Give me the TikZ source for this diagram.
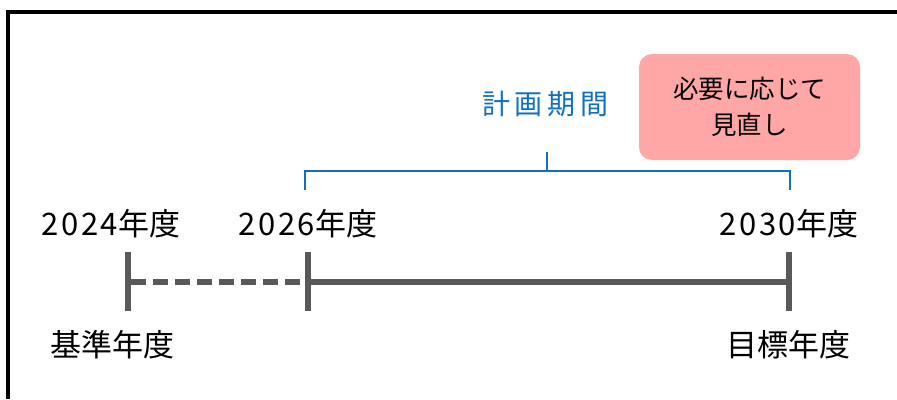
\documentclass[tikz,border=0pt]{standalone}
\usepackage{fontspec}
\setmainfont{Noto Sans CJK JP}
\newcommand{\dg}{\kern2.5pt}
\begin{document}
\begin{tikzpicture}[x=1pt,y=-1pt,
  frame/.style={line width=4pt,black},
  axis/.style={line width=6pt,draw=axisgray},
  tickmark/.style={line width=6pt,draw=axisgray},
  bracket/.style={line width=2pt,draw=planblue},
  yearlbl/.style={font=\fontsize{31}{34}\selectfont,text=black,inner sep=0pt},
  notebox/.style={fill=notepink,rounded corners=13pt,minimum width=221pt,minimum height=106pt,
    font=\fontsize{25.5}{35.5}\selectfont,align=center,inner sep=0pt}]
\definecolor{axisgray}{HTML}{595959}
\definecolor{planblue}{HTML}{1070C0}
\definecolor{notepink}{HTML}{FFA6A6}
\useasboundingbox (0,0) rectangle (897,399);
\fill[white] (0,0) rectangle (897,399);
% frame
\coordinate (ftl) at (6,12);
\coordinate (ftr) at (897,12);
\coordinate (fbl) at (8,399);
\draw[frame] (ftl) -- (ftr);
\draw[frame] (8,10) -- (fbl);
% ticks
\coordinate (t1a) at (128,252); \coordinate (t1b) at (128,311);
\coordinate (t2a) at (308,252); \coordinate (t2b) at (308,311);
\coordinate (t3a) at (789,252); \coordinate (t3b) at (789,311);
\draw[tickmark] (t1a) -- (t1b);
\draw[tickmark] (t2a) -- (t2b);
\draw[tickmark] (t3a) -- (t3b);
\coordinate (a1) at (131,282); \coordinate (a2) at (305,282);
\coordinate (a3) at (308,282); \coordinate (a4) at (789,282);
\draw[axis,dash pattern=on 15pt off 7pt] (a1) -- (a2);
\draw[axis] (a3) -- (a4);
% bracket
\coordinate (bl) at (305,190); \coordinate (br) at (790,190);
\coordinate (bm) at (547,152);
\draw[bracket] (bl) -- (305,171) -- (790,171) -- (br);
\draw[bracket] (bm) -- (547,171);
% labels
\node[yearlbl] (y1) at (111,224) {2\dg 0\dg 2\dg 4年度};
\node[yearlbl] (y2) at (308,224) {2\dg 0\dg 2\dg 6年度};
\node[yearlbl] (y3) at (789,224) {2\dg 0\dg 3\dg 0年度};
\node[yearlbl] (k1) at (112,345) {基準年度};
\node[yearlbl] (k2) at (788,345) {目標年度};
\node[yearlbl,text=planblue,font=\fontsize{28}{30}\selectfont] (plan) at (545,104) {計\,画\,期\,間};
\node[notebox] (note) at (749.5,107) {必要に応じて\\見直し};
\end{tikzpicture}
\end{document}
